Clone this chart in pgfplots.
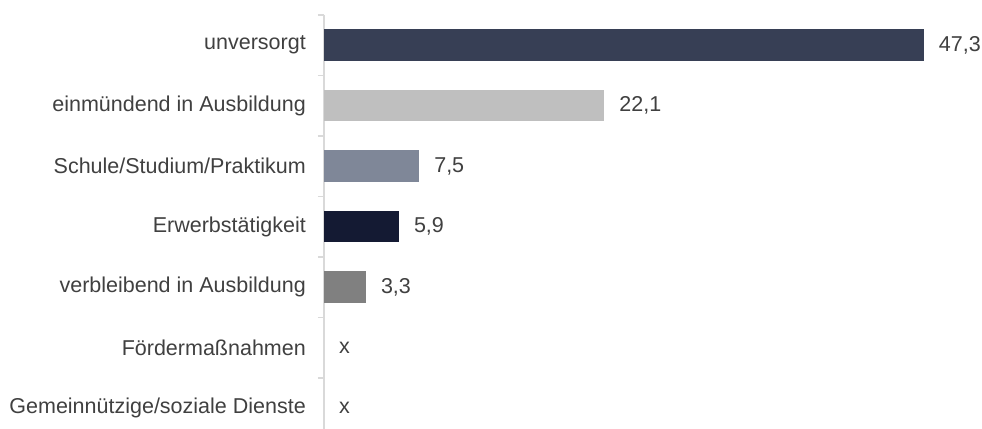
\documentclass[border=0pt]{standalone}
\usepackage{pgfplots}
\pgfplotsset{compat=1.18}
\usepackage{fontspec}
\setmainfont{Liberation Sans}

\definecolor{cA}{HTML}{373F55}
\definecolor{cB}{HTML}{BFBFBF}
\definecolor{cC}{HTML}{7F8798}
\definecolor{cD}{HTML}{141A33}
\definecolor{cE}{HTML}{808080}
\definecolor{axisgray}{HTML}{D9D9D9}
\definecolor{txt}{HTML}{404040}

\newcommand\lblfont{\fontsize{21.5bp}{25bp}\selectfont}

\begin{document}
\begin{tikzpicture}
\useasboundingbox (0,0) rectangle (982bp,429bp);
\begin{axis}[
  at={(324bp,-9.25bp)}, anchor=south west,
  scale only axis,
  width=634bp, height=423.5bp,
  xbar, bar width=31.5bp, bar shift=0pt,
  xmin=0, xmax=50,
  ymin=-0.5, ymax=6.5,
  y dir=reverse,
  clip=false,
  axis y line*=left,
  axis x line=none,
  axis line style={axisgray, line width=1.5bp},
  ytick={0,...,6},
  yticklabels={unversorgt, einmündend in Ausbildung, Schule/Studium/Praktikum,
    Erwerbstätigkeit, verbleibend in Ausbildung, Fördermaßnahmen,
    Gemeinnützige/soziale Dienste},
  major tick length=0pt,
  minor ytick={-0.5,0.5,...,6.5},
  minor tick length=6bp,
  tick align=outside,
  minor tick style={axisgray, line width=1.5bp},
  yticklabel style={font=\lblfont, text=txt, anchor=east, inner sep=0pt, xshift=-18bp},
  nodes near coords,
  point meta=explicit symbolic,
  nodes near coords style={font=\lblfont, text=txt, anchor=west, inner sep=0pt, xshift=15bp},
  table/row sep=\\,
]
\addplot[fill=cA, draw=none] table[x=val, y=pos, meta=lab] {pos val lab\\ 0 47.3 47,3\\};
\addplot[fill=cB, draw=none] table[x=val, y=pos, meta=lab] {pos val lab\\ 1 22.1 22,1\\};
\addplot[fill=cC, draw=none] table[x=val, y=pos, meta=lab] {pos val lab\\ 2 7.5 7,5\\};
\addplot[fill=cD, draw=none] table[x=val, y=pos, meta=lab] {pos val lab\\ 3 5.9 5,9\\};
\addplot[fill=cE, draw=none] table[x=val, y=pos, meta=lab] {pos val lab\\ 4 3.3 3,3\\};
\addplot[draw=none, fill=none] table[x=val, y=pos, meta=lab] {pos val lab\\ 5 0 x\\ 6 0 x\\};
\end{axis}
\end{tikzpicture}
\end{document}
